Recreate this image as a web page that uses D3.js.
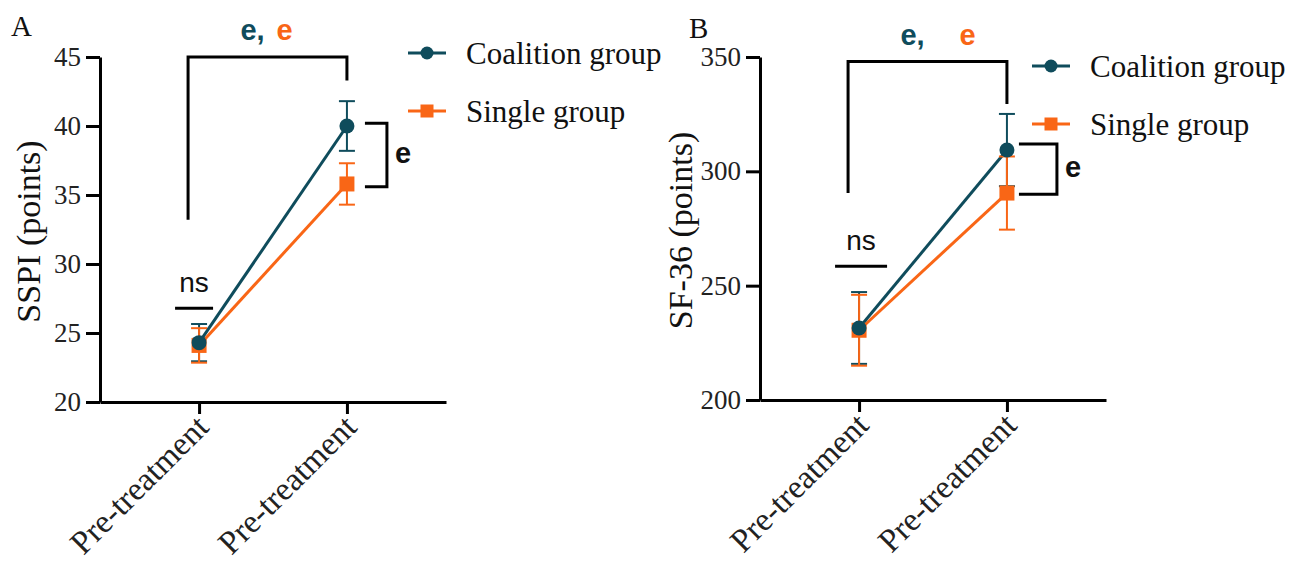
<!DOCTYPE html>
<html>
<head>
<meta charset="utf-8">
<script src="https://cdn.jsdelivr.net/npm/d3@7/dist/d3.min.js"></script>
<style>
  body { margin: 0; background: #fff; }
  svg { display: block; }
</style>
</head>
<body>
<svg id="chart" width="1289" height="572"></svg>
<script>
const timepoints = ["Pre-treatment", "Pre-treatment"];
const groups = ["Coalition group", "Single group"];

const sspiCoalition = [24.3, 40.0];
const sspiCoalitionErr = [1.35, 1.8];
const sspiSingle = [24.1, 35.8];
const sspiSingleErr = [1.25, 1.5];
const sspiTicks = [20, 25, 30, 35, 40, 45];

const sf36Coalition = [231.5, 309.3];
const sf36CoalitionErr = [15.7, 15.8];
const sf36Single = [230.5, 290.5];
const sf36SingleErr = [15.5, 16];
const sf36Ticks = [200, 250, 300, 350];

const TEAL = "#0f4c5c";
const ORANGE = "#f96616";
const SERIF = "'Liberation Serif', 'Times New Roman', serif";
const SANS = "'Liberation Sans', Arial, sans-serif";

const svg = d3.select("#chart");

drawPanel({
    letter: "A", left: 100, right: 446, top: 57, bottom: 402,
    domain: [20, 45], ticks: sspiTicks, title: "SSPI (points)", titleX: 40,
    coalition: sspiCoalition, coalitionErr: sspiCoalitionErr,
    single: sspiSingle, singleErr: sspiSingleErr,
    bigBracket: { top: 45, leftEnd: 33.2, rightEnd: 43.3 },
    ns: { value: 26.8, half: 19 },
    smallBracket: { top: 40.2, bottom: 35.6, gap: 40, width: 22 },
    eOffset: 17,
    legend: { x: 408, y: 53 },
    letterPos: [11, 36]
});

drawPanel({
    letter: "B", left: 760, right: 1106, top: 57, bottom: 400,
    domain: [200, 350], ticks: sf36Ticks, title: "SF-36 (points)", titleX: 692,
    coalition: sf36Coalition, coalitionErr: sf36CoalitionErr,
    single: sf36Single, singleErr: sf36SingleErr,
    bigBracket: { top: 348, leftEnd: 290.5, rightEnd: 329.5 },
    ns: { value: 258.5, half: 26 },
    smallBracket: { top: 312, bottom: 290, gap: 50, width: 38 },
    eOffset: 40,
    legend: { x: 1032, y: 66 },
    letterPos: [689, 38]
});

function drawPanel(cfg) {
    const g = svg.append("g");

    const x = d3.scaleLinear().domain([-0.67, 1.67]).range([cfg.left, cfg.right]);
    const y = d3.scaleLinear().domain(cfg.domain).range([cfg.bottom, cfg.top]);

    // y axis
    const yAxis = g.append("g")
        .attr("transform", `translate(${cfg.left},0)`)
        .call(d3.axisLeft(y).tickValues(cfg.ticks).tickSize(14).tickSizeOuter(0).tickPadding(5));
    styleAxis(yAxis);
    yAxis.selectAll("text").style("font-size", "27px");

    // x axis
    const xAxis = g.append("g")
        .attr("transform", `translate(0,${cfg.bottom})`)
        .call(d3.axisBottom(x).tickValues([0, 1]).tickSize(12).tickSizeOuter(0)
            .tickFormat(i => timepoints[i]));
    styleAxis(xAxis);
    xAxis.selectAll("text")
        .style("font-size", "33px")
        .attr("text-anchor", "end")
        .attr("dy", null)
        .attr("y", 0)
        .attr("transform", "translate(11,27) rotate(-45)");

    // y title
    g.append("text")
        .attr("transform", `translate(${cfg.titleX},${(cfg.top + cfg.bottom) / 2 + 2}) rotate(-90)`)
        .attr("text-anchor", "middle")
        .style("font-family", SERIF)
        .style("font-size", "34px")
        .attr("fill", "#111")
        .text(cfg.title);

    // panel letter
    g.append("text")
        .attr("x", cfg.letterPos[0]).attr("y", cfg.letterPos[1])
        .style("font-family", SERIF).style("font-size", "29px")
        .attr("fill", "#111")
        .text(cfg.letter);

    const series = [
        { name: groups[1], values: cfg.single, err: cfg.singleErr, color: ORANGE, shape: "square" },
        { name: groups[0], values: cfg.coalition, err: cfg.coalitionErr, color: TEAL, shape: "circle" }
    ];

    const line = d3.line().x((d, i) => x(i)).y(d => y(d));

    series.forEach(s => {
        g.append("path")
            .datum(s.values)
            .attr("fill", "none")
            .attr("stroke", s.color)
            .attr("stroke-width", 3)
            .attr("d", line);
    });

    series.slice().reverse().forEach(s => {
        s.values.forEach((v, i) => {
            const cx = x(i);
            const e = s.err[i];
            const eg = g.append("g").attr("stroke", s.color).attr("stroke-width", 2);
            eg.append("line").attr("x1", cx).attr("x2", cx).attr("y1", y(v + e)).attr("y2", y(v - e));
            eg.append("line").attr("x1", cx - 8).attr("x2", cx + 8).attr("y1", y(v + e)).attr("y2", y(v + e));
            eg.append("line").attr("x1", cx - 8).attr("x2", cx + 8).attr("y1", y(v - e)).attr("y2", y(v - e));
        });
    });

    series.forEach(s => {
        s.values.forEach((v, i) => drawMarker(g, s.shape, x(i), y(v), s.color, 7.5));
    });

    // significance brackets
    const bb = cfg.bigBracket;
    g.append("path")
        .attr("fill", "none").attr("stroke", "#000").attr("stroke-width", 3)
        .attr("d", `M${x(0) - 11},${y(bb.leftEnd)}V${y(bb.top)}H${x(1)}V${y(bb.rightEnd)}`);

    const mid = (x(0) - 11 + x(1)) / 2;
    g.append("text")
        .attr("x", mid - 15).attr("y", y(bb.top) - 17)
        .attr("text-anchor", "middle")
        .style("font-family", SANS).style("font-weight", "bold").style("font-size", "29px")
        .attr("fill", TEAL).text("e,");
    g.append("text")
        .attr("x", mid + cfg.eOffset).attr("y", y(bb.top) - 17)
        .attr("text-anchor", "middle")
        .style("font-family", SANS).style("font-weight", "bold").style("font-size", "29px")
        .attr("fill", ORANGE).text("e");

    const ns = cfg.ns;
    g.append("line")
        .attr("x1", x(0) - 24).attr("x2", x(0) - 24 + ns.half * 2)
        .attr("y1", y(ns.value)).attr("y2", y(ns.value))
        .attr("stroke", "#000").attr("stroke-width", 3);
    g.append("text")
        .attr("x", x(0) - 24 + ns.half).attr("y", y(ns.value) - 16)
        .attr("text-anchor", "middle")
        .style("font-family", SANS).style("font-size", "28px")
        .attr("fill", "#111").text("ns");

    const sb = cfg.smallBracket;
    const bx = x(1) + sb.gap;
    g.append("path")
        .attr("fill", "none").attr("stroke", "#000").attr("stroke-width", 3)
        .attr("d", `M${bx - sb.width},${y(sb.top)}H${bx}V${y(sb.bottom)}H${bx - sb.width}`);
    g.append("text")
        .attr("x", bx + 8).attr("y", (y(sb.top) + y(sb.bottom)) / 2 + 8)
        .style("font-family", SANS).style("font-weight", "bold").style("font-size", "29px")
        .attr("fill", "#111").text("e");

    // legend
    const leg = g.append("g").attr("transform", `translate(${cfg.legend.x},${cfg.legend.y})`);
    [series[1], series[0]].forEach((s, k) => {
        const row = leg.append("g").attr("transform", `translate(0,${k * 58})`);
        row.append("line").attr("x1", 0).attr("x2", 38).attr("y1", 0).attr("y2", 0)
            .attr("stroke", s.color).attr("stroke-width", 3);
        drawMarker(row, s.shape, 19, 0, s.color, 6.5);
        row.append("text")
            .attr("x", 58).attr("y", 11)
            .style("font-family", SERIF).style("font-size", "31px")
            .attr("fill", "#111").text(s.name);
    });
}

function drawMarker(g, shape, cx, cy, color, r) {
    if (shape === "circle") {
        g.append("circle").attr("cx", cx).attr("cy", cy).attr("r", r).attr("fill", color);
    } else {
        g.append("rect").attr("x", cx - r).attr("y", cy - r)
            .attr("width", r * 2).attr("height", r * 2).attr("fill", color);
    }
}

function styleAxis(axis) {
    axis.select(".domain").attr("stroke", "#000").attr("stroke-width", 3);
    axis.selectAll(".tick line").attr("stroke", "#000").attr("stroke-width", 3);
    axis.selectAll("text")
        .style("font-family", SERIF)
        .attr("fill", "#222");
}
</script>
</body>
</html>
